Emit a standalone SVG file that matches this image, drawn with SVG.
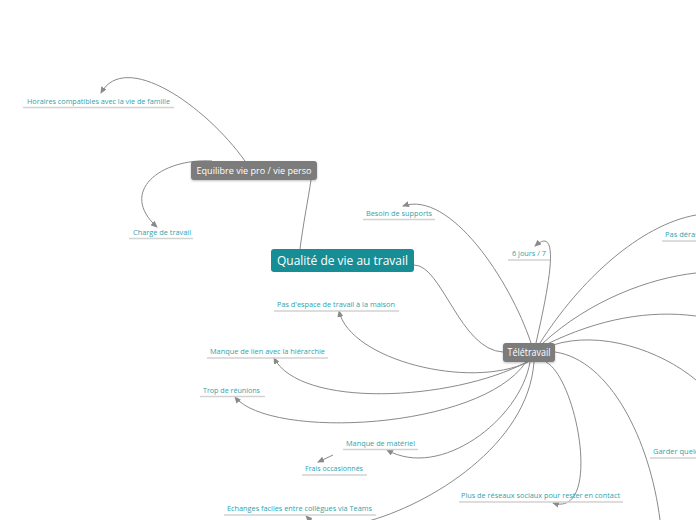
<svg xmlns="http://www.w3.org/2000/svg" width="696" height="520" viewBox="0 0 696 520">
<style>
  .lbl { font-family: "Open Sans", "Liberation Sans", sans-serif; font-size: 7.5px; fill: #2fa3aa; }
  .ul { stroke: #d2d2d2; stroke-width: 1.5; fill: none; }
  .con { stroke: #8a8a8a; stroke-width: 1; fill: none; }
  .arr { stroke: #8a8a8a; stroke-width: 1; fill: none; marker-end: url(#ah); }
  .gnode { fill: #7b7b7b; }
  .gtxt { font-family: "Open Sans", "Liberation Sans", sans-serif; fill: #ffffff; text-anchor: middle; font-weight: 500; }
</style>
<defs>
  <marker id="ah" markerWidth="7" markerHeight="6" refX="6" refY="3" orient="auto" markerUnits="userSpaceOnUse">
    <path d="M0,0 L7,3 L0,6 z" fill="#8a8a8a"/>
  </marker>
  <filter id="sh" x="-10%" y="-20%" width="120%" height="150%">
    <feDropShadow dx="0" dy="1" stdDeviation="1" flood-color="#000" flood-opacity="0.25"/>
  </filter>
</defs>
<rect width="696" height="520" fill="#ffffff"/>

<g id="connectors">
  <path class="con" d="M300,249 C303,225 308,200 311,180"/>
  <path class="arr" d="M245,161 C205,105 125,50 101,93"/>
  <path class="arr" d="M212,161 C160,158 118,192 157,227"/>
  <path class="con" d="M414,265 C442,265 460,350 503,352"/>
  <path class="arr" d="M531,343 C510,280 450,190 403,206"/>
  <path class="arr" d="M536,343 C548,290 562,222 535,246"/>
  <path class="con" d="M540,343 C580,280 640,225 696,215"/>
  <path class="con" d="M543,343 C590,300 650,278 696,273"/>
  <path class="con" d="M545,345 C600,318 650,310 696,316"/>
  <path class="con" d="M553,345 C600,330 660,350 696,380"/>
  <path class="con" d="M555,352 C610,360 650,440 660,520"/>
  <path class="arr" d="M546,362 C578,380 602,518 553,503"/>
  <path class="arr" d="M528,362 C470,390 350,360 339,311"/>
  <path class="arr" d="M527,362 C450,402 300,408 274,358"/>
  <path class="arr" d="M526,362 C480,430 270,440 235,397"/>
  <path class="arr" d="M530,362 C520,420 440,480 387,450"/>
  <path class="arr" d="M333,455 L318,462"/>
  <path class="arr" d="M534,362 C528,445 430,505 365,522 C340,530 315,525 306,516"/>
</g>

<g id="central">
  <rect x="271" y="249" width="143" height="23" rx="3" fill="#178e96"/>
  <text class="gtxt" x="342.5" y="265" font-size="12.5" textLength="131" lengthAdjust="spacingAndGlyphs">Qualité de vie au travail</text>
</g>
<g id="equilibre">
  <rect class="gnode" x="191" y="161" width="126" height="19" rx="3" filter="url(#sh)"/>
  <text class="gtxt" x="254" y="174" font-size="9.5" textLength="115" lengthAdjust="spacingAndGlyphs">Equilibre vie pro / vie perso</text>
</g>
<g id="teletravail">
  <rect class="gnode" x="503" y="343" width="52" height="19" rx="3" filter="url(#sh)"/>
  <text class="gtxt" x="529" y="356" font-size="10" textLength="43" lengthAdjust="spacingAndGlyphs">Télétravail</text>
</g>

<g id="horaires">
  <text class="lbl" x="27" y="104" textLength="143" lengthAdjust="spacingAndGlyphs">Horaires compatibles avec la vie de famille</text>
  <line class="ul" x1="23" y1="107.5" x2="174" y2="107.5"/>
</g>
<g id="charge">
  <text class="lbl" x="133" y="235" textLength="58" lengthAdjust="spacingAndGlyphs">Charge de travail</text>
  <line class="ul" x1="129" y1="238.5" x2="193" y2="238.5"/>
</g>
<g id="besoin">
  <text class="lbl" x="366" y="216" textLength="66" lengthAdjust="spacingAndGlyphs">Besoin de supports</text>
  <line class="ul" x1="363" y1="219.5" x2="435" y2="219.5"/>
</g>
<g id="sixjours">
  <text class="lbl" x="512" y="256" textLength="34" lengthAdjust="spacingAndGlyphs">6 jours / 7</text>
  <line class="ul" x1="508" y1="260" x2="550" y2="260"/>
</g>
<g id="pasderange">
  <text class="lbl" x="665" y="237">Pas dérangé</text>
  <line class="ul" x1="662" y1="241" x2="696" y2="241"/>
</g>
<g id="garder">
  <text class="lbl" x="653" y="454">Garder quelques</text>
  <line class="ul" x1="650" y1="458" x2="696" y2="458"/>
</g>
<g id="espace">
  <text class="lbl" x="277" y="307" textLength="118" lengthAdjust="spacingAndGlyphs">Pas d'espace de travail à la maison</text>
  <line class="ul" x1="274" y1="311" x2="399" y2="311"/>
</g>
<g id="lien">
  <text class="lbl" x="210" y="354" textLength="115" lengthAdjust="spacingAndGlyphs">Manque de lien avec la hiérarchie</text>
  <line class="ul" x1="207" y1="358" x2="328" y2="358"/>
</g>
<g id="reunions">
  <text class="lbl" x="203" y="393" textLength="57" lengthAdjust="spacingAndGlyphs">Trop de réunions</text>
  <line class="ul" x1="200" y1="396.5" x2="265" y2="396.5"/>
</g>
<g id="materiel">
  <text class="lbl" x="346" y="446" textLength="69" lengthAdjust="spacingAndGlyphs">Manque de matériel</text>
  <line class="ul" x1="343" y1="449.5" x2="418" y2="449.5"/>
</g>
<g id="frais">
  <text class="lbl" x="305" y="471" textLength="58" lengthAdjust="spacingAndGlyphs">Frais occasionnés</text>
  <line class="ul" x1="302" y1="475" x2="367" y2="475"/>
</g>
<g id="echanges">
  <text class="lbl" x="227" y="511" textLength="145" lengthAdjust="spacingAndGlyphs">Echanges faciles entre collègues via Teams</text>
  <line class="ul" x1="224" y1="515" x2="376" y2="515"/>
</g>
<g id="reseaux">
  <text class="lbl" x="461" y="498" textLength="159" lengthAdjust="spacingAndGlyphs">Plus de réseaux sociaux pour rester en contact</text>
  <line class="ul" x1="459" y1="502" x2="623" y2="502"/>
</g>
</svg>
